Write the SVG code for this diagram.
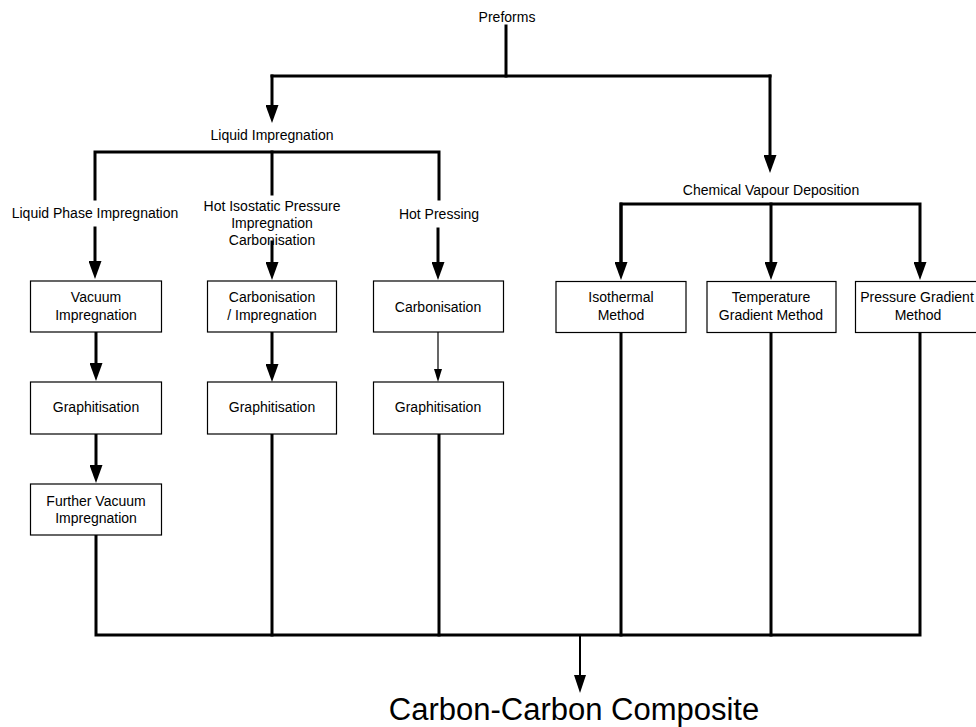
<svg xmlns="http://www.w3.org/2000/svg" width="976" height="727" viewBox="0 0 976 727">
<style>
text{font-family:"Liberation Sans",Arial,sans-serif;font-size:14px;fill:#000;text-anchor:middle}
.box{fill:#fff;stroke:#000;stroke-width:1.2}
.c{fill:none;stroke:#000;stroke-width:3;stroke-linecap:square}
.thin{fill:none;stroke:#000;stroke-width:1.2}
.mid{fill:none;stroke:#000;stroke-width:2}
.big{font-size:31px}
</style>
<defs>
<marker id="ah" viewBox="0 0 18 13" refX="0" refY="6.5" markerWidth="18" markerHeight="13" markerUnits="userSpaceOnUse" orient="auto"><path d="M0,0 L18,6.5 L0,13 z" fill="#000"/></marker>
<marker id="ahs" viewBox="0 0 13 8" refX="0" refY="4" markerWidth="13" markerHeight="8" markerUnits="userSpaceOnUse" orient="auto"><path d="M0,0 L13,4 L0,8 z" fill="#000"/></marker>
<marker id="ahb" viewBox="0 0 18 12" refX="0" refY="6" markerWidth="18" markerHeight="12" markerUnits="userSpaceOnUse" orient="auto"><path d="M0,0 L18,6 L0,12 z" fill="#000"/></marker>
</defs>
<g id="connectors">
<path class="c" d="M506,26 V76"/>
<path class="c" d="M272,76 H770"/>
<path class="c" d="M272,76 V105" marker-end="url(#ah)"/>
<path class="c" d="M770,76 V155" marker-end="url(#ah)"/>
<path class="c" d="M95,199 V152 H439 V199"/>
<path class="c" d="M272,152 V194"/>
<path class="c" d="M95,228 V261" marker-end="url(#ah)"/>
<path class="c" d="M272,242 V262" marker-end="url(#ah)"/>
<path class="c" d="M438,229 V262" marker-end="url(#ah)"/>
<path class="c" d="M621,262 V204 H920 V262" marker-end="url(#ah)"/>
<path class="c" d="M621,204 V262" marker-end="url(#ah)"/>
<path class="c" d="M771,204 V262" marker-end="url(#ah)"/>
<path class="c" d="M96,332 V363" marker-end="url(#ah)"/>
<path class="c" d="M96,434 V465" marker-end="url(#ah)"/>
<path class="c" d="M272,332 V364" marker-end="url(#ah)"/>
<path class="thin" d="M438,332 V369" marker-end="url(#ahs)"/>
<path class="c" d="M96,535 V635 H920 V332"/>
<path class="c" d="M272,434 V635"/>
<path class="c" d="M439,434 V635"/>
<path class="c" d="M621,332 V635"/>
<path class="c" d="M771,332 V635"/>
<path class="mid" d="M580,636 V675" marker-end="url(#ahb)"/>
</g>
<g id="preforms"><text x="507" y="22">Preforms</text></g>
<g id="liquid-impregnation"><text x="272" y="140">Liquid Impregnation</text></g>
<g id="cvd"><text x="771" y="195">Chemical Vapour Deposition</text></g>
<g id="liquid-phase"><text x="95" y="218">Liquid Phase Impregnation</text></g>
<g id="hip"><text x="272" y="211">Hot Isostatic Pressure</text><text x="272" y="228">Impregnation</text><text x="272" y="245">Carbonisation</text></g>
<g id="hot-pressing"><text x="439" y="219">Hot Pressing</text></g>
<g id="vacuum-impregnation"><rect class="box" x="30.5" y="281" width="131" height="51"/><text x="96" y="302">Vacuum</text><text x="96" y="319.5">Impregnation</text></g>
<g id="graphitisation-1"><rect class="box" x="30.5" y="382" width="131" height="52"/><text x="96" y="412">Graphitisation</text></g>
<g id="further-vacuum"><rect class="box" x="30.5" y="484" width="131" height="51"/><text x="96" y="505.5">Further Vacuum</text><text x="96" y="523">Impregnation</text></g>
<g id="carb-impregnation"><rect class="box" x="207.5" y="281" width="129" height="51"/><text x="272" y="302">Carbonisation</text><text x="272" y="319.5">/ Impregnation</text></g>
<g id="graphitisation-2"><rect class="box" x="207.5" y="382" width="129" height="52"/><text x="272" y="412">Graphitisation</text></g>
<g id="carbonisation"><rect class="box" x="373.5" y="281" width="130" height="51"/><text x="438" y="311.5">Carbonisation</text></g>
<g id="graphitisation-3"><rect class="box" x="373.5" y="382" width="130" height="52"/><text x="438" y="412">Graphitisation</text></g>
<g id="isothermal"><rect class="box" x="556" y="281.5" width="130" height="51"/><text x="621" y="302">Isothermal</text><text x="621" y="319.5">Method</text></g>
<g id="temperature-gradient"><rect class="box" x="707" y="281.5" width="129" height="51"/><text x="771" y="302">Temperature</text><text x="771" y="319.5">Gradient Method</text></g>
<g id="pressure-gradient"><rect class="box" x="855.5" y="281.5" width="130" height="51"/><text x="917" y="302">Pressure Gradient</text><text x="918" y="319.5">Method</text></g>
<g id="carbon-carbon"><text class="big" x="574" y="720">Carbon-Carbon Composite</text></g>
</svg>
